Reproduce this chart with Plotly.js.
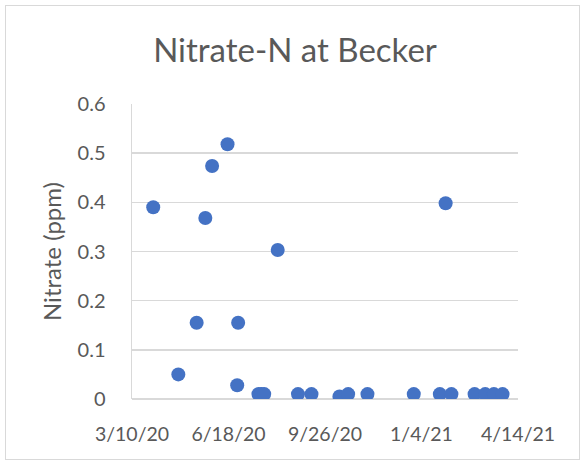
<!DOCTYPE html>
<html>
<head>
<meta charset="utf-8">
<script src="https://cdn.plot.ly/plotly-3.0.1.min.js"></script>
<style>
  html, body { margin: 0; padding: 0; background: #fff; }
  #wrap { position: relative; width: 581px; height: 461px; }
  #chart { position: absolute; left: 0; top: 0; width: 581px; height: 461px; }
  #frame { position: absolute; left: 5px; top: 5px; width: 573px; height: 453px; border: 1px solid #d9d9d9; pointer-events: none; }
</style>
</head>
<body>
<div id="wrap">
  <div id="chart"></div>
  <div id="frame"></div>
</div>
<script>
// Sample dates and nitrate values (ppm)
const sampleDates = [
  '2020-04-01', '2020-04-27', '2020-05-16', '2020-05-25', '2020-06-01',
  '2020-06-17', '2020-06-27', '2020-06-28', '2020-07-19', '2020-07-22',
  '2020-07-25', '2020-08-08', '2020-08-29', '2020-09-12', '2020-10-11',
  '2020-10-20', '2020-11-09', '2020-12-27', '2021-01-23', '2021-01-29',
  '2021-02-04', '2021-02-28', '2021-03-11', '2021-03-20', '2021-03-29'
];
const nitrateValues = [
  0.39, 0.05, 0.155, 0.368, 0.474,
  0.518, 0.028, 0.155, 0.01, 0.01,
  0.01, 0.303, 0.01, 0.01, 0.005,
  0.01, 0.01, 0.01, 0.01, 0.398,
  0.01, 0.01, 0.01, 0.01, 0.01
];
const xTickVals = ['2020-03-10', '2020-06-18', '2020-09-26', '2021-01-04', '2021-04-14'];
const xTickText = ['3/10/20', '6/18/20', '9/26/20', '1/4/21', '4/14/21'];
const yTickVals = [0, 0.1, 0.2, 0.3, 0.4, 0.5, 0.6];
const yTickText = ['0', '0.1', '0.2', '0.3', '0.4', '0.5', '0.6'];

const fontFam = 'Lato, "Open Sans", sans-serif';
const textColor = '#595959';

const trace = {
  type: 'scatter',
  mode: 'markers',
  x: sampleDates,
  y: nitrateValues,
  marker: { color: '#4472C4', size: 14, line: { width: 0 } },
  hoverinfo: 'x+y'
};

const layout = {
  width: 581,
  height: 461,
  margin: { l: 132, r: 63, t: 104, b: 62 },
  paper_bgcolor: '#ffffff',
  plot_bgcolor: '#ffffff',
  showlegend: false,
  font: { family: fontFam, color: textColor },
  title: {
    text: 'Nitrate-N at Becker',
    font: { family: fontFam, size: 33, color: textColor },
    xref: 'container', yref: 'container',
    x: 295 / 581, xanchor: 'center',
    y: 1 - 50 / 461, yanchor: 'middle'
  },
  xaxis: {
    type: 'date',
    range: ['2020-03-10', '2021-04-14'],
    tickmode: 'array',
    tickvals: xTickVals,
    ticktext: xTickText,
    tickfont: { family: fontFam, size: 19.5, color: textColor },
    showgrid: false,
    zeroline: false,
    showline: false,
    ticks: 'outside',
    ticklen: 18,
    tickcolor: 'rgba(0,0,0,0)',
    fixedrange: true
  },
  yaxis: {
    range: [0, 0.6],
    tickmode: 'array',
    tickvals: yTickVals,
    ticktext: yTickText,
    tickfont: { family: fontFam, size: 20, color: textColor },
    showgrid: true,
    gridcolor: '#d9d9d9',
    gridwidth: 1.5,
    zeroline: true,
    zerolinecolor: '#d9d9d9',
    zerolinewidth: 1.5,
    showline: true,
    linecolor: '#d9d9d9',
    linewidth: 1.5,
    ticks: 'outside',
    ticklen: 21,
    tickcolor: 'rgba(0,0,0,0)',
    title: {
      text: 'Nitrate (ppm)',
      font: { family: fontFam, size: 24, color: textColor },
      standoff: 9
    },
    fixedrange: true
  }
};

Plotly.newPlot('chart', [trace], layout, { displayModeBar: false, staticPlot: true });
</script>
</body>
</html>
